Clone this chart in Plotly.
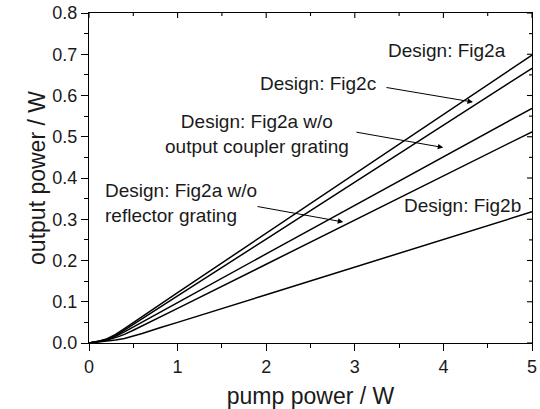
import plotly.graph_objects as go

pump = [0, 0.1, 0.2, 0.3, 0.4, 0.5, 0.6, 0.8, 1, 2, 3, 4, 5]
fig2a = [0, 0.004, 0.010, 0.021, 0.035, 0.050, 0.064, 0.093, 0.122, 0.266, 0.410, 0.554, 0.698]
fig2c = [0, 0.0035, 0.009, 0.018, 0.031, 0.045, 0.058, 0.086, 0.114, 0.252, 0.390, 0.527, 0.666]
wo_outcoupler = [0, 0.003, 0.008, 0.016, 0.027, 0.039, 0.050, 0.074, 0.098, 0.216, 0.334, 0.452, 0.569]
wo_reflector = [0, 0.003, 0.007, 0.013, 0.021, 0.031, 0.042, 0.063, 0.084, 0.191, 0.298, 0.405, 0.512]
fig2b = [0, 0.002, 0.004, 0.007, 0.011, 0.017, 0.023, 0.037, 0.050, 0.117, 0.184, 0.251, 0.318]

series = [fig2a, fig2c, wo_outcoupler, wo_reflector, fig2b]

x_ticks = [0, 1, 2, 3, 4, 5]
y_ticks = [0.0, 0.1, 0.2, 0.3, 0.4, 0.5, 0.6, 0.7, 0.8]
x_minor = [0.5, 1.5, 2.5, 3.5, 4.5]
y_minor = [0.05, 0.15, 0.25, 0.35, 0.45, 0.55, 0.65, 0.75]

FONT = "Liberation Sans, Arial, sans-serif"
TXT = "#1a1a1a"
W, H = 540, 409
M = dict(l=89, r=8, t=13, b=66)
PW = W - M["l"] - M["r"]
PH = H - M["t"] - M["b"]
XR = [0, 5]
YR = [0, 0.8]

fig = go.Figure()
for s in series:
    fig.add_trace(go.Scatter(x=pump, y=s, mode="lines",
                             line=dict(color="black", width=1.5),
                             showlegend=False, hoverinfo="skip"))

# inward ticks on the mirrored (top/right) sides, built from the tick arrays
dy_major = 5 / PH * (YR[1] - YR[0])
dy_minor = 3 / PH * (YR[1] - YR[0])
dx_major = 5 / PW * (XR[1] - XR[0])
dx_minor = 3 / PW * (XR[1] - XR[0])
tx, ty = [], []
for v in x_ticks:
    tx += [v, v, None]
    ty += [YR[1], YR[1] - dy_major, None]
for v in x_minor:
    tx += [v, v, None]
    ty += [YR[1], YR[1] - dy_minor, None]
for v in y_ticks:
    tx += [XR[1], XR[1] - dx_major, None]
    ty += [v, v, None]
for v in y_minor:
    tx += [XR[1], XR[1] - dx_minor, None]
    ty += [v, v, None]
fig.add_trace(go.Scatter(x=tx, y=ty, mode="lines", connectgaps=False,
                         line=dict(color="black", width=1.1),
                         showlegend=False, hoverinfo="skip"))

labels = [
    dict(text="Design: Fig2a", x=4.04, y=0.710, xanchor="center", align="center"),
    dict(text="Design: Fig2c", x=2.585, y=0.630, xanchor="center", align="center"),
    dict(text="Design: Fig2a w/o<br>output coupler grating", x=1.896, y=0.507,
         xanchor="center", align="center"),
    dict(text="Design: Fig2a w/o<br>reflector grating", x=0.158, y=0.340,
         xanchor="left", align="left"),
    dict(text="Design: Fig2b", x=4.215, y=0.334, xanchor="center", align="center"),
]
for a in labels:
    fig.add_annotation(xref="x", yref="y", yanchor="middle", showarrow=False,
                       font=dict(family=FONT, size=19, color=TXT), **a)

arrows = [
    (3.341, 0.620, 4.334, 0.584),
    (3.002, 0.5117, 3.999, 0.4738),
    (1.885, 0.3315, 2.870, 0.2933),
]
for ax_, ay_, hx, hy in arrows:
    fig.add_annotation(x=hx, y=hy, ax=ax_, ay=ay_, xref="x", yref="y",
                       axref="x", ayref="y", text="", showarrow=True,
                       arrowhead=2, arrowsize=1.1, arrowwidth=1, arrowcolor="black")

fig.update_layout(
    width=W, height=H,
    margin=M,
    paper_bgcolor="white", plot_bgcolor="white",
    font=dict(family=FONT, color=TXT),
    xaxis=dict(range=XR, tickmode="array", tickvals=x_ticks,
               ticktext=[str(v) for v in x_ticks], automargin=False,
               ticks="outside", ticklen=7, tickcolor="black", tickwidth=1.2,
               showline=True, mirror=True, linecolor="black", linewidth=1.2,
               showgrid=False, zeroline=False,
               minor=dict(tickmode="array", tickvals=x_minor, ticks="outside", ticklen=4,
                          tickcolor="black", tickwidth=1, showgrid=False),
               tickfont=dict(size=18, family=FONT, color=TXT),
               title=dict(text="pump power / W", font=dict(size=23, family=FONT, color=TXT),
                          standoff=12)),
    yaxis=dict(range=YR, tickmode="array", tickvals=y_ticks,
               ticktext=[f"{v:.1f}" for v in y_ticks], automargin=False,
               ticks="outside", ticklen=7, tickcolor="black", tickwidth=1.2,
               showline=True, mirror=True, linecolor="black", linewidth=1.2,
               showgrid=False, zeroline=False,
               minor=dict(tickmode="array", tickvals=y_minor, ticks="outside", ticklen=4,
                          tickcolor="black", tickwidth=1, showgrid=False),
               tickfont=dict(size=18, family=FONT, color=TXT),
               title=dict(text="output power / W", font=dict(size=23, family=FONT, color=TXT),
                          standoff=0)),
)

fig.write_html("out.html")
